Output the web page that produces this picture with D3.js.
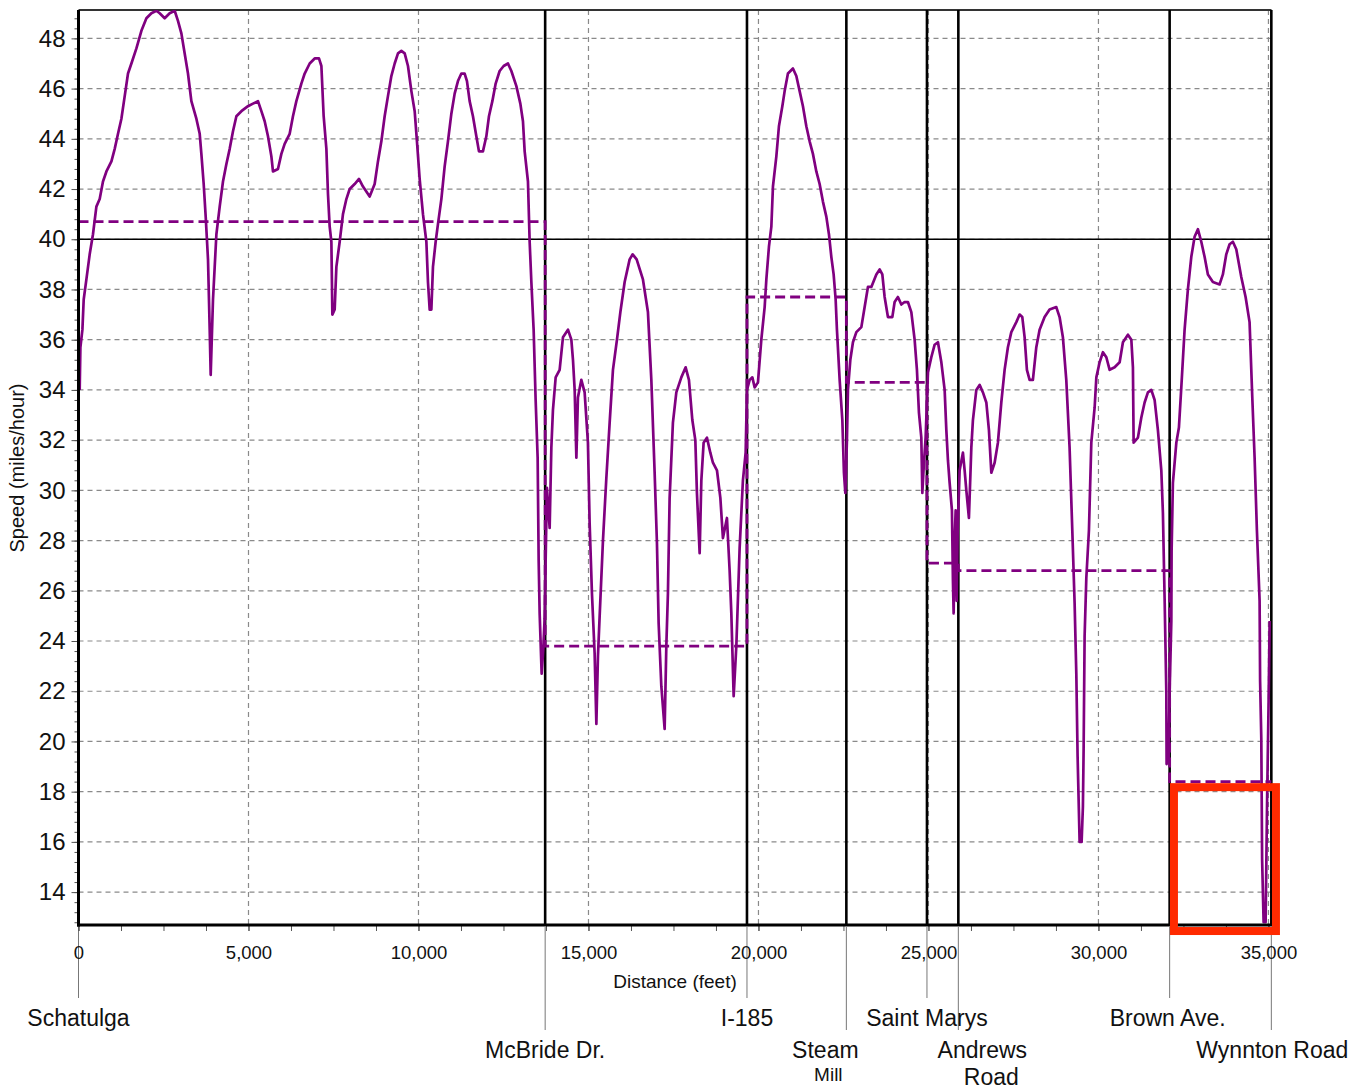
<!DOCTYPE html>
<html>
<head>
<meta charset="utf-8">
<script src="https://cdn.jsdelivr.net/npm/d3@7"></script>
<style>
	body { margin: 0; background: #fff; }
	text { font-family: Arial, "Liberation Sans", sans-serif; fill: #111; }
</style>
</head>
<body>
<svg id="chart" width="1364" height="1091"></svg>
<script>
// distance along the corridor (feet) and recorded speed (mph)
var distance = [
	35,56,115,153,232,329,426,526,623,720,
	821,968,1065,1162,1262,1359,1456,1556,1703,1850,
	1997,2144,2291,2388,2535,2682,2829,2926,3026,3123,
	3220,3320,3467,3565,3614,3682,3741,3809,3859,3888,
	3956,4006,4056,4153,4250,4350,4447,4544,4644,4791,
	4985,5132,5279,5379,5476,5573,5673,5720,5867,5967,
	6064,6211,6308,6408,6555,6653,6800,6947,7073,7144,
	7211,7291,7338,7388,7438,7467,7535,7585,7682,7779,
	7879,7976,8123,8250,8367,8564,8711,8808,8908,9005,
	9102,9202,9300,9397,9497,9594,9691,9791,9888,9955,
	10035,10132,10232,10279,10329,10379,10426,10505,10573,10673,
	10770,10867,10967,11064,11161,11261,11358,11426,11505,11602,
	11702,11779,11896,11996,12073,12173,12270,12387,12505,12632,
	12732,12879,12996,13073,13123,13220,13270,13320,13387,13446,
	13505,13535,13564,13623,13667,13711,13740,13778,13858,13908,
	13955,14035,14152,14250,14397,14496,14544,14594,14644,14690,
	14790,14887,14984,15034,15102,15181,15232,15279,15329,15426,
	15526,15623,15720,15838,15938,16064,16211,16300,16417,16602,
	16749,16849,16946,17014,17064,17143,17240,17290,17337,17387,
	17484,17584,17731,17858,17955,18055,18143,18190,18270,18320,
	18387,18484,18584,18661,18779,18879,18955,19073,19152,19202,
	19270,19349,19446,19543,19623,19662,19741,19820,19888,19985,
	20084,20182,20232,20308,20379,20426,20526,20602,20702,20770,
	20867,21014,21114,21211,21308,21408,21505,21602,21702,21799,
	21896,21996,22073,22143,22211,22270,22308,22388,22467,22514,
	22555,22602,22632,22702,22779,22879,23026,23123,23220,23320,
	23467,23564,23643,23711,23808,23937,24005,24102,24202,24299,
	24396,24496,24593,24661,24720,24790,24820,24867,24917,24985,
	25084,25182,25279,25379,25476,25526,25573,25623,25691,25720,
	25741,25770,25800,25829,25859,25917,26014,26064,26114,26190,
	26261,26308,26408,26505,26602,26702,26779,26849,26946,27043,
	27143,27240,27337,27437,27584,27681,27760,27828,27896,27975,
	28072,28172,28269,28416,28563,28760,28857,28954,29054,29151,
	29231,29299,29349,29387,29446,29505,29543,29564,29593,29643,
	29720,29790,29888,29938,30035,30132,30232,30329,30476,30623,
	30720,30867,30967,31014,31035,31161,31261,31358,31455,31555,
	31652,31749,31849,31896,31946,31996,32005,32064,32094,32144,
	32152,32190,32291,32367,32437,32534,32631,32731,32828,32925,
	33025,33122,33219,33366,33563,33660,33760,33857,33954,34054,
	34201,34328,34445,34525,34593,34661,34740,34755,34790,34814,
	34858,34917,34961,35005,35035
];
var speed = [
	34.0,35.7,36.4,37.6,38.4,39.4,40.2,41.3,41.6,42.3,
	42.7,43.1,43.6,44.2,44.8,45.7,46.6,47.0,47.6,48.3,
	48.8,49.0,49.1,49.0,48.8,49.0,49.1,48.7,48.2,47.4,
	46.6,45.5,44.8,44.2,43.4,42.2,40.9,39.2,36.4,34.6,
	37.6,38.9,40.2,41.3,42.3,43.0,43.6,44.3,44.9,45.1,
	45.3,45.4,45.5,45.1,44.7,44.1,43.3,42.7,42.8,43.4,
	43.8,44.2,44.9,45.5,46.2,46.6,47.0,47.2,47.2,46.9,
	44.9,43.6,41.8,40.5,39.9,37.0,37.2,38.9,39.9,41.0,
	41.6,42.0,42.2,42.4,42.1,41.7,42.2,43.1,43.9,44.9,
	45.7,46.5,47.0,47.4,47.5,47.4,46.9,45.9,45.1,43.9,
	42.4,41.0,39.9,38.3,37.2,37.2,38.9,39.9,40.6,41.6,
	42.9,43.9,45.0,45.8,46.3,46.6,46.6,46.3,45.5,44.9,
	44.1,43.5,43.5,44.1,44.9,45.5,46.2,46.7,46.9,47.0,
	46.7,46.1,45.4,44.7,43.5,42.3,39.9,38.3,36.4,33.6,
	31.3,27.2,25.1,22.7,23.6,24.9,27.2,30.1,28.5,31.7,
	33.2,34.5,34.8,36.1,36.4,36.0,35.2,34.0,31.3,33.7,
	34.4,33.9,31.9,28.7,25.9,23.5,20.7,23.4,25.0,28.0,
	30.5,32.7,34.8,36.0,37.1,38.3,39.2,39.4,39.2,38.4,
	37.1,34.4,30.7,27.9,24.7,22.2,20.5,23.8,25.9,29.7,
	32.7,33.9,34.5,34.9,34.4,32.8,32.0,29.9,27.5,30.4,
	31.9,32.1,31.5,31.1,30.8,29.7,28.1,28.9,26.8,25.1,
	21.8,23.8,27.7,30.4,31.5,34.0,34.4,34.5,34.1,34.3,
	36.0,37.3,38.4,39.7,40.5,42.1,43.3,44.5,45.3,45.9,
	46.6,46.8,46.5,45.9,45.3,44.5,43.9,43.4,42.7,42.2,
	41.5,40.9,40.2,39.3,38.6,37.6,36.4,34.4,32.8,30.7,
	29.9,32.0,34.0,35.2,35.9,36.3,36.5,37.3,38.1,38.1,
	38.6,38.8,38.6,37.7,36.9,36.9,37.5,37.7,37.4,37.5,
	37.5,37.1,36.0,34.8,33.1,32.1,29.9,31.1,32.1,34.7,
	35.3,35.8,35.9,35.1,34.0,32.4,31.2,30.3,29.2,26.4,
	25.1,28.0,29.2,25.6,28.4,30.8,31.5,30.8,30.0,28.9,
	31.7,32.8,34.0,34.2,33.9,33.5,32.4,30.7,31.1,31.9,
	33.5,34.8,35.7,36.3,36.7,37.0,36.9,36.1,34.8,34.4,
	34.4,35.7,36.4,36.9,37.2,37.3,36.9,36.1,34.4,31.7,
	28.4,25.5,22.7,19.4,16.0,16.0,17.4,19.7,24.2,26.5,
	28.4,31.9,33.3,34.5,35.1,35.5,35.3,34.8,34.9,35.1,
	35.9,36.2,36.0,34.9,31.9,32.1,32.9,33.5,33.9,34.0,
	33.6,32.4,30.8,29.1,25.7,22.0,19.1,19.3,22.0,24.8,
	27.6,30.3,31.9,32.5,34.1,36.4,38.0,39.3,40.1,40.4,
	39.9,39.3,38.6,38.3,38.2,38.6,39.4,39.8,39.9,39.6,
	38.5,37.7,36.7,33.7,31.3,28.4,25.6,22.4,20.1,15.3,
	12.8,12.8,17.7,21.6,24.8
];

var streetNames = [["Schatulga"], ["McBride Dr."], ["I-185"], ["Steam", "Mill"], ["Saint Marys"], ["Andrews", "Road"], ["Brown Ave."], ["Wynnton Road"]];
var streetPos = [0, 13726, 19662, 22585, 24956, 25879, 32094, 35085];
var segmentAvg = [40.7, 23.8, 37.7, 34.3, 27.1, 26.8, 18.4];
var speedLimit = 40;

var xTicks = [0, 5000, 10000, 15000, 20000, 25000, 30000, 35000];
var yTicks = [14, 16, 18, 20, 22, 24, 26, 28, 30, 32, 34, 36, 38, 40, 42, 44, 46, 48];

// label placement below the axis (style only)
var labelLayout = [
	{ row: 0, dx: [0] },
	{ row: 1, dx: [0] },
	{ row: 0, dx: [0] },
	{ row: 1, dx: [-21, -18], size: [23, 19], dy: [0, 23] },
	{ row: 0, dx: [0] },
	{ row: 1, dx: [24, 33] },
	{ row: 0, dx: [-2] },
	{ row: 1, dx: [1] }
];

var pLeft = 78.5, pRight = 1271.5, pTop = 10, pBottom = 925;

var x = d3.scaleLinear().domain([0, 35090]).range([pLeft, pRight]);
var y = d3.scaleLinear().domain([12.69, 49.13]).range([pBottom, pTop]);

var svg = d3.select("#chart");

svg.append("defs").append("clipPath").attr("id", "plotclip")
	.append("rect")
	.attr("x", pLeft).attr("y", pTop)
	.attr("width", pRight - pLeft).attr("height", pBottom - pTop);

// grid
svg.append("g")
	.selectAll("line")
	.data(xTicks.slice(1))
	.enter().append("line")
	.attr("x1", function(d) { return x(d); })
	.attr("x2", function(d) { return x(d); })
	.attr("y1", pTop).attr("y2", pBottom)
	.attr("stroke", "#8a8a8a")
	.attr("stroke-width", 1.2)
	.attr("stroke-dasharray", "5,4");

svg.append("g")
	.selectAll("line")
	.data(yTicks)
	.enter().append("line")
	.attr("x1", pLeft).attr("x2", pRight)
	.attr("y1", function(d) { return y(d); })
	.attr("y2", function(d) { return y(d); })
	.attr("stroke", "#8a8a8a")
	.attr("stroke-width", 1.2)
	.attr("stroke-dasharray", "5,4");

// speed limit
svg.append("line")
	.attr("x1", pLeft).attr("x2", pRight)
	.attr("y1", y(speedLimit)).attr("y2", y(speedLimit))
	.attr("stroke", "#000")
	.attr("stroke-width", 1.5);

// top border
svg.append("line")
	.attr("x1", pLeft).attr("x2", pRight)
	.attr("y1", pTop).attr("y2", pTop)
	.attr("stroke", "#333")
	.attr("stroke-width", 2);

// street markers inside plot
svg.append("g")
	.selectAll("line")
	.data(streetPos.slice(1))
	.enter().append("line")
	.attr("x1", function(d) { return x(d); })
	.attr("x2", function(d) { return x(d); })
	.attr("y1", pTop).attr("y2", pBottom)
	.attr("stroke", "#000")
	.attr("stroke-width", 2.6);

// street markers below axis
svg.append("g")
	.selectAll("line")
	.data(streetPos)
	.enter().append("line")
	.attr("x1", function(d) { return x(d); })
	.attr("x2", function(d) { return x(d); })
	.attr("y1", pBottom + 2)
	.attr("y2", function(d, i) { return labelLayout[i].row ? 1030 : 998; })
	.attr("stroke", "#777")
	.attr("stroke-width", 1);

var labels = svg.append("g").selectAll("text")
	.data(streetNames)
	.enter().append("text")
	.attr("text-anchor", "middle")
	.attr("transform", function(d, i) {
		return "translate(" + x(streetPos[i]) + "," + (labelLayout[i].row ? 1058 : 1026) + ")";
	});
labels.each(function(d, i) {
	var lay = labelLayout[i];
	d3.select(this).selectAll("tspan")
		.data(d)
		.enter().append("tspan")
		.attr("x", function(t, j) { return lay.dx[j]; })
		.attr("y", function(t, j) { return lay.dy ? lay.dy[j] : j * 27; })
		.style("font-size", function(t, j) { return (lay.size ? lay.size[j] : 23) + "px"; })
		.text(function(t) { return t; });
});

// segment average speeds (dashed step)
var avgPts = segmentAvg.map(function(v, i) { return [streetPos[i], v]; });
avgPts.push([streetPos[streetPos.length - 1], segmentAvg[segmentAvg.length - 1]]);
svg.append("path")
	.datum(avgPts)
	.attr("fill", "none")
	.attr("stroke", "#800080")
	.attr("stroke-width", 2.8)
	.attr("stroke-dasharray", "10,5")
	.attr("d", d3.line()
		.curve(d3.curveStepAfter)
		.x(function(d) { return x(d[0]); })
		.y(function(d) { return y(d[1]); }));

// speed profile
svg.append("path")
	.datum(distance.map(function(d, i) { return [d, speed[i]]; }))
	.attr("clip-path", "url(#plotclip)")
	.attr("fill", "none")
	.attr("stroke", "#800080")
	.attr("stroke-width", 2.7)
	.attr("stroke-linejoin", "round")
	.attr("d", d3.line()
		.x(function(d) { return x(d[0]); })
		.y(function(d) { return y(d[1]); }));

// axes
var xAxis = svg.append("g")
	.attr("transform", "translate(0," + pBottom + ")")
	.call(d3.axisBottom(x).tickValues(xTicks).tickFormat(d3.format(",")).tickSize(6).tickPadding(15));
svg.append("g")
	.attr("transform", "translate(0," + pBottom + ")")
	.call(d3.axisBottom(x).tickValues(d3.range(0, 35001, 1250)).tickFormat("").tickSize(6));

var yAxis = svg.append("g")
	.attr("transform", "translate(" + pLeft + ",0)")
	.call(d3.axisLeft(y).tickValues(yTicks).tickSize(7).tickPadding(6));
svg.append("g")
	.attr("transform", "translate(" + pLeft + ",0)")
	.call(d3.axisLeft(y).tickValues(d3.range(12.8, 49.1, 0.4)).tickFormat("").tickSize(4));

svg.selectAll(".domain").remove();
svg.selectAll(".tick line").attr("stroke", "#555");
xAxis.selectAll("text").style("font-size", "18.5px").attr("fill", "#111");
yAxis.selectAll("text").style("font-size", "24px").attr("fill", "#111");

svg.append("line")
	.attr("x1", pLeft).attr("x2", pLeft)
	.attr("y1", pTop).attr("y2", pBottom + 1.5)
	.attr("stroke", "#000").attr("stroke-width", 3);
svg.append("line")
	.attr("x1", pLeft - 1.5).attr("x2", pRight + 1)
	.attr("y1", pBottom).attr("y2", pBottom)
	.attr("stroke", "#000").attr("stroke-width", 3);

// axis titles
svg.append("text")
	.attr("x", 675).attr("y", 988)
	.attr("text-anchor", "middle")
	.style("font-size", "19px")
	.text("Distance (feet)");
svg.append("text")
	.attr("transform", "translate(24,468) rotate(-90)")
	.attr("text-anchor", "middle")
	.style("font-size", "20px")
	.text("Speed (miles/hour)");

// highlight box
svg.append("rect")
	.attr("x", x(32221)).attr("y", y(18.18))
	.attr("width", x(35221) - x(32221))
	.attr("height", y(12.45) - y(18.18))
	.attr("fill", "none")
	.attr("stroke", "#ff2a00")
	.attr("stroke-width", 8);
</script>
</body>
</html>
